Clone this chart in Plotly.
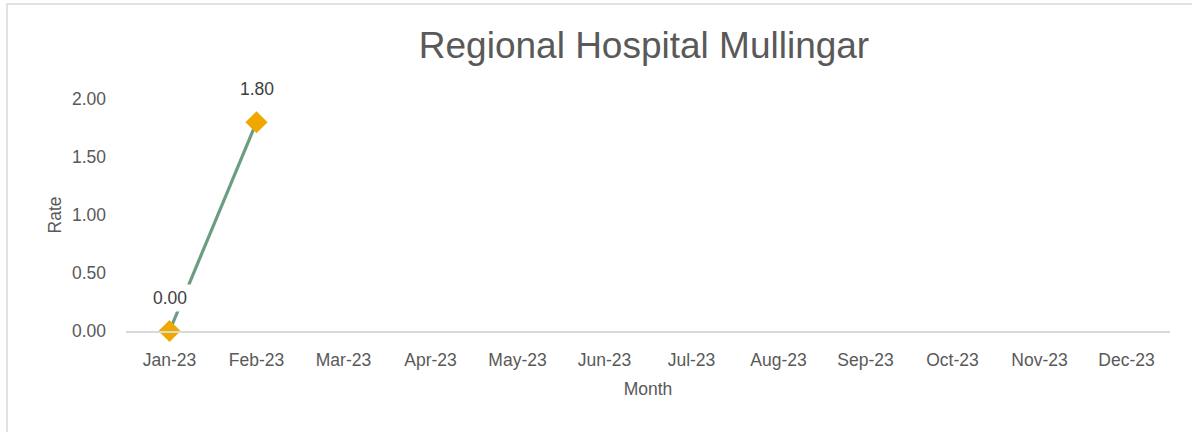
import plotly.graph_objects as go

months = ["Jan-23", "Feb-23", "Mar-23", "Apr-23", "May-23", "Jun-23",
          "Jul-23", "Aug-23", "Sep-23", "Oct-23", "Nov-23", "Dec-23"]
rates = [0.00, 1.80, None, None, None, None, None, None, None, None, None, None]
y_ticks = [0.0, 0.5, 1.0, 1.5, 2.0]

W, H = 1192, 432
L, R, T, B = 126, 22, 99, 101
pw, ph = W - L - R, H - T - B

FONT = "Liberation Sans, Arial, sans-serif"
TXT = "#595959"

fig = go.Figure()
fig.add_trace(go.Scatter(
    x=months, y=rates, mode="lines+markers",
    line=dict(color="#6b9e80", width=3.2),
    marker=dict(symbol="diamond", size=17, color="#f0a800", line=dict(width=0)),
    cliponaxis=False, connectgaps=False, showlegend=False, hoverinfo="skip",
))

for m, v in zip(months, rates):
    if v is None:
        continue
    fig.add_annotation(
        x=m, y=v, xref="x", yref="y", text=f"{v:.2f}", showarrow=False,
        yshift=33, font=dict(family=FONT, size=17.5, color="#404040"),
        bgcolor="white", borderpad=3,
    )

# chart border (extends beyond the visible window on right/bottom)
fig.add_shape(type="rect", xref="paper", yref="paper",
              x0=(7 - L) / pw, x1=(W + 20 - L) / pw,
              y0=-(B + 20) / ph, y1=(H - B - 4) / ph,
              line=dict(color="#d9d9d9", width=1.5), fillcolor="rgba(0,0,0,0)", layer="below")

fig.update_layout(
    width=W, height=H,
    margin=dict(l=L, r=R, t=T, b=B, pad=0),
    paper_bgcolor="white", plot_bgcolor="white",
    font=dict(family=FONT, color=TXT, size=17.5),
    title=dict(text="Regional Hospital Mullingar", xref="container", yref="container",
               x=644 / W, y=1 - 45 / H, xanchor="center", yanchor="middle",
               font=dict(family=FONT, size=37, color=TXT)),
    xaxis=dict(type="category", categoryorder="array", categoryarray=months,
               range=[-0.5, 11.5], showgrid=False, zeroline=False,
               showline=True, linecolor="#d9d9d9", linewidth=1.5,
               ticks="", ticklabelstandoff=12,
               tickfont=dict(family=FONT, size=17.5, color=TXT),
               title=dict(text="Month", standoff=14, font=dict(family=FONT, size=17.5, color=TXT))),
    yaxis=dict(range=[0, 2], tickvals=y_ticks, tickformat=".2f",
               showgrid=False, zeroline=False, showline=False, ticks="",
               ticklabelstandoff=19,
               tickfont=dict(family=FONT, size=17.5, color=TXT),
               title=dict(text="Rate", standoff=5, font=dict(family=FONT, size=17.5, color=TXT))),
)

fig.write_html("out.html", config={"displayModeBar": False},
               post_script="document.body.style.margin='0';document.body.style.overflow='hidden';")
